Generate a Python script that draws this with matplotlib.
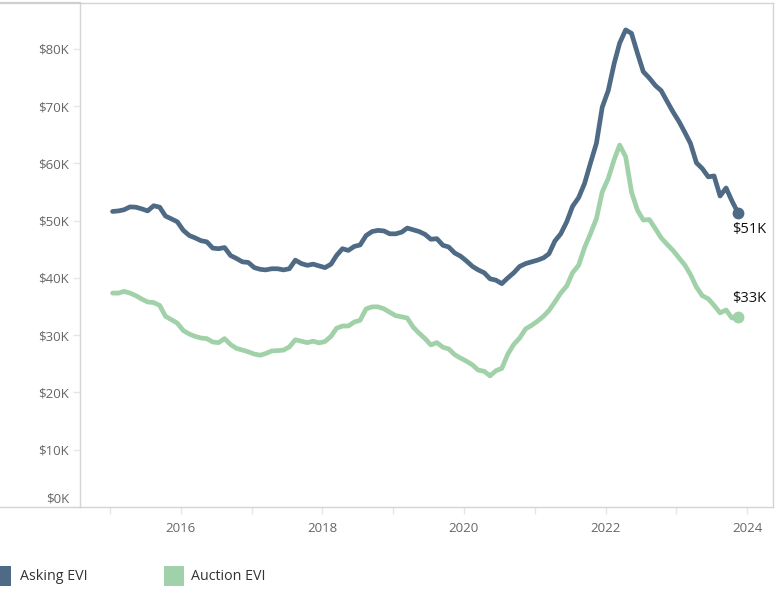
import matplotlib
matplotlib.use("Agg")
import matplotlib.pyplot as plt
import matplotlib.dates as mdates
from matplotlib.transforms import ScaledTranslation
from matplotlib.patches import Rectangle
from matplotlib.lines import Line2D
import pandas as pd

# ---- data (values in $K), monthly Jan 2015 .. Nov 2023 ----
dates = pd.date_range("2015-01-01", periods=107, freq="MS") + pd.Timedelta(days=14)

asking_evi = [
    51.6, 51.7, 51.9, 52.4, 52.35, 52.05, 51.7, 52.6, 52.35, 50.8, 50.3, 49.8,
    48.3, 47.4, 47.0, 46.5, 46.3, 45.2, 45.1, 45.3, 43.9, 43.4, 42.8, 42.7,
    41.8, 41.5, 41.4, 41.6, 41.6, 41.4, 41.6, 43.1, 42.5, 42.2, 42.4, 42.1,
    41.8, 42.4, 43.9, 45.1, 44.8, 45.5, 45.75, 47.4, 48.1, 48.3, 48.2, 47.7,
    47.7, 48.0, 48.7, 48.4, 48.1, 47.6, 46.75, 46.85, 45.7, 45.4, 44.35, 43.8,
    42.95, 42.0, 41.4, 40.9, 39.85, 39.6, 39.0, 40.0, 40.9, 42.0, 42.5, 42.8,
    43.1, 43.5, 44.2, 46.45, 47.7, 49.8, 52.5, 54.0, 56.5, 60.0, 63.5, 69.8,
    72.7, 77.5, 81.0, 83.3, 82.7, 79.2, 76.0, 74.9, 73.6, 72.7, 70.8, 69.0,
    67.3, 65.35, 63.5, 60.1, 59.1, 57.65, 57.8, 54.3, 55.7, 53.45, 51.4,
]

auction_evi = [
    37.35, 37.35, 37.65, 37.35, 36.9, 36.3, 35.8, 35.7, 35.2, 33.3, 32.7, 32.1,
    30.8, 30.2, 29.8, 29.5, 29.4, 28.8, 28.7, 29.4, 28.35, 27.7, 27.4, 27.1,
    26.7, 26.5, 26.8, 27.25, 27.3, 27.4, 27.95, 29.2, 28.95, 28.7, 28.95, 28.65,
    28.9, 29.8, 31.2, 31.6, 31.6, 32.3, 32.6, 34.6, 34.95, 34.95, 34.6, 34.0,
    33.4, 33.2, 33.0, 31.4, 30.35, 29.4, 28.3, 28.7, 27.9, 27.6, 26.6, 26.0,
    25.45, 24.8, 23.9, 23.7, 22.9, 23.8, 24.2, 26.7, 28.4, 29.5, 31.1, 31.7,
    32.45, 33.3, 34.3, 35.8, 37.35, 38.6, 40.9, 42.2, 45.3, 47.7, 50.35, 55.0,
    57.35, 60.7, 63.2, 61.15, 55.0, 51.8, 50.1, 50.2, 48.6, 47.0, 45.85, 44.8,
    43.5, 42.2, 40.6, 38.4, 36.9, 36.35, 35.2, 33.9, 34.4, 33.0, 33.15,
]

series_names = ["Asking EVI", "Auction EVI"]
end_labels = ["$51K", "$33K"]
y_ticks = [0, 10, 20, 30, 40, 50, 60, 70, 80]
x_tick_years = list(range(2015, 2025))
x_label_years = [2016, 2018, 2020, 2022, 2024]

# ---- style ----
c_ask = "#4e6a85"
c_auc = "#a0d1a8"
grid_c = "#d4d4d4"
txt_c = "#666666"
plt.rcParams["font.family"] = ["Open Sans", "DejaVu Sans"]

W, H = 775, 592
fig = plt.figure(figsize=(W / 100, H / 100), dpi=100)
ax = fig.add_axes([80 / W, 1 - 507 / H, (773 - 80) / W, (507 - 3) / H])

lw = 3.4
ax.plot(dates, asking_evi, color=c_ask, lw=lw, solid_joinstyle="round",
        solid_capstyle="round", zorder=3)
ax.plot(dates, auction_evi, color=c_auc, lw=lw, solid_joinstyle="round",
        solid_capstyle="round", zorder=2)
ax.plot(dates[-1:], asking_evi[-1:], "o", color=c_ask, ms=7.5, zorder=4)
ax.plot(dates[-1:], auction_evi[-1:], "o", color=c_auc, ms=7.5, zorder=4)

ax.annotate(end_labels[0], (dates[-1], asking_evi[-1]), xytext=(-4, -7),
            textcoords="offset points", ha="left", va="top", fontsize=10.5, color="#111111")
ax.annotate(end_labels[1], (dates[-1], auction_evi[-1]), xytext=(-4, 8),
            textcoords="offset points", ha="left", va="bottom", fontsize=10.5, color="#111111")

ax.set_xlim(pd.Timestamp("2014-07-31"), pd.Timestamp("2024-05-14"))
ax.set_ylim(0, 88)

ax.set_yticks(y_ticks)
ax.set_yticklabels([f"${v}K" for v in y_ticks])
ax.tick_params(axis="y", length=5, width=1, color="#e6e6e6", pad=3,
               labelsize=9.5, labelcolor=txt_c)
lbl0 = ax.get_yticklabels()[0]
lbl0.set_transform(lbl0.get_transform() + ScaledTranslation(0, 7 / 72, fig.dpi_scale_trans))

ax.set_xticks([pd.Timestamp(f"{y}-01-01") for y in x_tick_years])
ax.set_xticklabels([str(y) if y in x_label_years else "" for y in x_tick_years])
ax.tick_params(axis="x", length=5, width=1, color="#e6e6e6", pad=6,
               labelsize=9.5, labelcolor=txt_c)

for s in ax.spines.values():
    s.set_color(grid_c)
    s.set_linewidth(1)

# header lines extending to the left edge
fig.add_artist(Line2D([0, 80 / W], [1 - 3 / H, 1 - 3 / H], transform=fig.transFigure,
                      color="#cfcfcf", lw=1.6))
fig.add_artist(Line2D([0, 80 / W], [1 - 507 / H, 1 - 507 / H], transform=fig.transFigure,
                      color=grid_c, lw=1))

# legend
leg_y0 = 1 - 586 / H
leg_h = 20 / H
fig.add_artist(Rectangle((0, leg_y0), 11 / W, leg_h, transform=fig.transFigure,
                         color=c_ask, lw=0))
fig.add_artist(Rectangle((164 / W, leg_y0), 20 / W, leg_h, transform=fig.transFigure,
                         color=c_auc, lw=0))
fig.text(20 / W, leg_y0 + leg_h / 2, series_names[0], ha="left", va="center",
         fontsize=10.3, color="#333333")
fig.text(191 / W, leg_y0 + leg_h / 2, series_names[1], ha="left", va="center",
         fontsize=10.3, color="#333333")

fig.savefig("out.png", dpi=100)
